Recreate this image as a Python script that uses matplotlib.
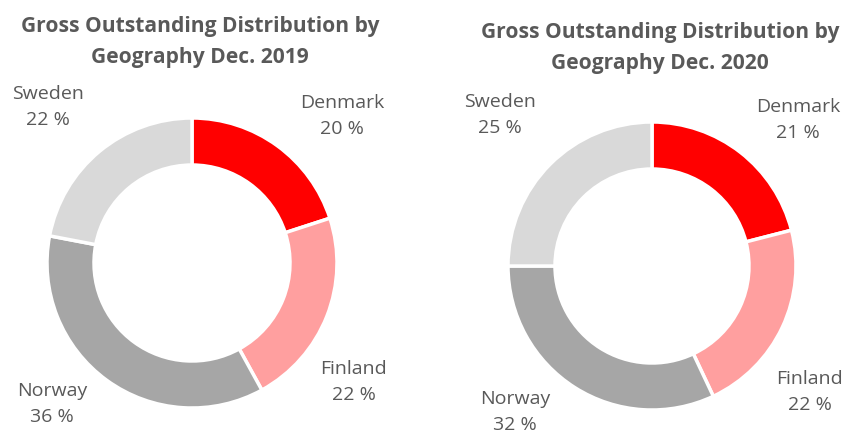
import matplotlib
matplotlib.use("Agg")
import matplotlib.pyplot as plt

countries = ["Denmark", "Finland", "Norway", "Sweden"]
values_2019 = [20, 22, 36, 22]
values_2020 = [21, 22, 32, 25]
titles = ["Gross Outstanding Distribution by\nGeography Dec. 2019",
          "Gross Outstanding Distribution by\nGeography Dec. 2020"]
colors = ["#FF0000", "#FF9F9F", "#A6A6A6", "#D9D9D9"]
text_color = "#595959"

W, H = 848, 432
fig = plt.figure(figsize=(W / 100, H / 100), dpi=100)
ax = fig.add_axes([0, 0, 1, 1])
ax.set_xlim(0, W)
ax.set_ylim(0, H)
ax.set_aspect("equal")
ax.axis("off")

FONT = "Open Sans"

charts = [
    dict(vals=values_2019, title=titles[0], center=(192, H - 263), r=145,
         title_xy=(200, H - 42),
         labels_xy=[(342, H - 116), (354, H - 382), (52, H - 404), (48, H - 107)]),
    dict(vals=values_2020, title=titles[1], center=(652, H - 266), r=144,
         title_xy=(660, H - 48),
         labels_xy=[(798, H - 120), (810, H - 392), (515, H - 412), (500, H - 115)]),
]

for c in charts:
    ax.pie(c["vals"], colors=colors, radius=c["r"], center=c["center"],
           startangle=90, counterclock=False, frame=True,
           wedgeprops=dict(width=47, edgecolor="white", linewidth=2.5))
    ax.text(c["title_xy"][0], c["title_xy"][1], c["title"], ha="center", va="center",
            fontsize=15.1, fontweight="bold", color=text_color, family=FONT,
            linespacing=1.6)
    for name, v, (x, y) in zip(countries, c["vals"], c["labels_xy"]):
        ax.text(x, y, f"{name}\n{v} %", ha="center", va="center", fontsize=14,
                color=text_color, family=FONT, linespacing=1.55)

ax.set_xlim(0, W)
ax.set_ylim(0, H)
ax.axis("off")
fig.savefig("out.png", dpi=100)
